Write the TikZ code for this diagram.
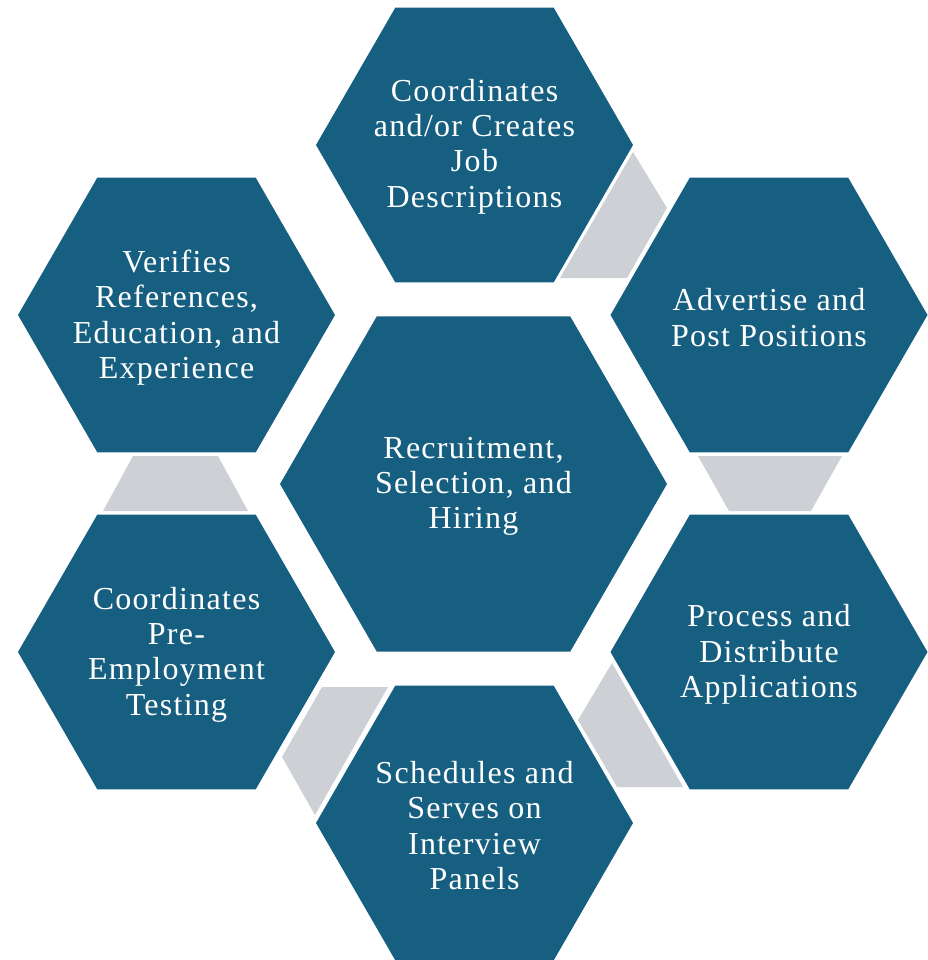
\documentclass[tikz,border=0pt]{standalone}
\usepackage{fontspec}
\setmainfont[LetterSpace=4]{Liberation Serif}
\definecolor{hexblue}{RGB}{23,95,128}
\definecolor{linkgrey}{RGB}{205,209,214}
\newcommand\hexshape[3]{\fill[hexfill] (#1,#2) ++(-#3,0) -- ++(0.5*#3,-0.8660254*#3) -- ++(#3,0) -- ++(0.5*#3,0.8660254*#3) -- ++(-0.5*#3,0.8660254*#3) -- ++(-#3,0) -- cycle;}
\begin{document}
\begin{tikzpicture}[x=1pt,y=-1pt,
  hexfill/.style={fill=hexblue},
  linkfill/.style={fill=linkgrey},
  hextext/.style={text=white,align=center,inner sep=0pt,yshift=-3.5pt,font=\fontsize{32}{35.3}\selectfont}]
\useasboundingbox (0,0) rectangle (927,960);
% hexagons
\hexshape{473.5}{484}{193.5}
\hexshape{474.5}{145}{158.5}
\hexshape{769}{315}{158.5}
\hexshape{769}{652}{158.5}
\hexshape{474.5}{823}{158.5}
\hexshape{176.5}{652}{158.5}
\hexshape{176.5}{315}{158.5}
% grey links
\fill[linkfill] (633,152) -- (667,208) -- (627,278) -- (560,278) -- cycle;
\fill[linkfill] (698,456) -- (842,456) -- (811,511) -- (729,511) -- cycle;
\fill[linkfill] (612,663) -- (578,720) -- (617,787) -- (683,787) -- cycle;
\fill[linkfill] (322,687) -- (388,687) -- (315,815) -- (282,757) -- cycle;
\fill[linkfill] (103,511) -- (248,511) -- (218,456) -- (133,456) -- cycle;
% texts
\node[hextext] (center) at (473.5,483) {Recruitment,\\Selection, and\\Hiring};
\node[hextext] (top) at (474.5,143) {Coordinates\\and/or Creates\\Job\\Descriptions};
\node[hextext] (ur) at (769,314) {Advertise and\\Post Positions};
\node[hextext] (lr) at (769,651) {Process and\\Distribute\\Applications};
\node[hextext] (bot) at (474.5,822) {Schedules and\\Serves on\\Interview\\Panels};
\node[hextext] (ll) at (176.5,651) {Coordinates\\Pre-\\Employment\\Testing};
\node[hextext] (ul) at (176.5,314) {Verifies\\References,\\Education, and\\Experience};
\end{tikzpicture}
\end{document}
